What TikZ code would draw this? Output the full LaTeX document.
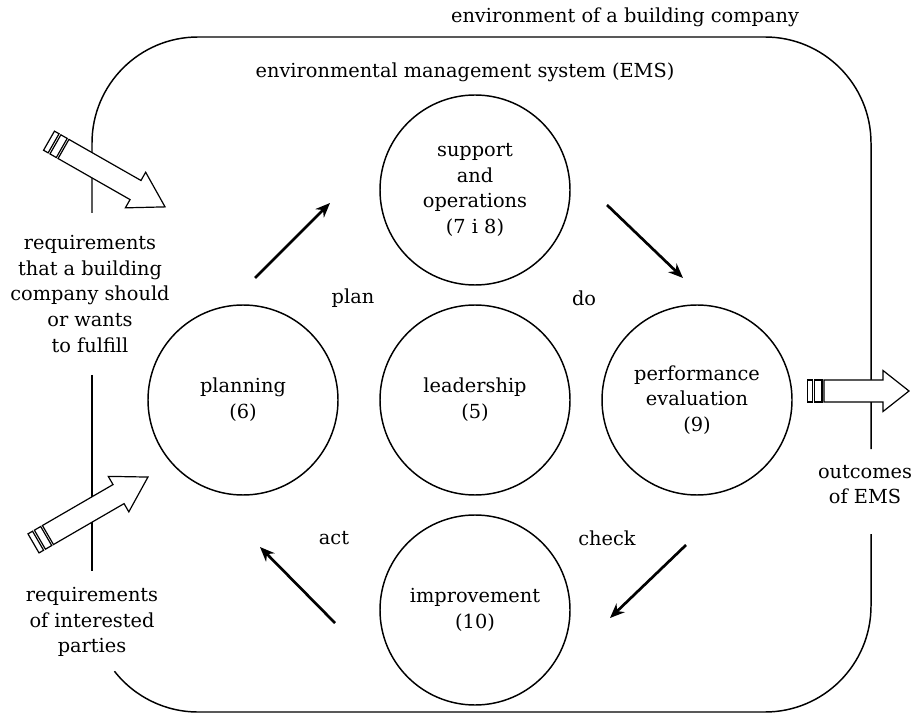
\documentclass[tikz,border=0pt]{standalone}
\usepackage{fontspec}
\setmainfont{DejaVu Serif}
\usetikzlibrary{arrows.meta}
\tikzset{
  stage/.style={draw, circle, line width=1.1pt, minimum size=142.5pt, inner sep=0pt, align=center},
  frameline/.style={line width=1.1pt},
  cyclearrow/.style={line width=2pt, -{Stealth[length=11pt,width=9pt]}},
  hollow/.style={draw, fill=white, line width=0.9pt, line join=miter},
  txt/.style={align=center, inner sep=0pt}
}
% striped hollow arrow: start, angle, total length, head length
\newcommand{\hollowarrow}[4]{%
  \begin{scope}[shift={#1},rotate=#2]
    \draw[hollow] (0,-11) rectangle (5.3,11);
    \draw[hollow] (7.4,-11) rectangle (14.7,11);
    \draw[hollow] (16.7,-11) -- ({#3-#4},-11) -- ({#3-#4},-20.5) -- (#3,0)
      -- ({#3-#4},20.5) -- ({#3-#4},11) -- (16.7,11) -- cycle;
  \end{scope}}
\begin{document}
\begin{tikzpicture}[x=0.75pt,y=0.75pt,font=\fontsize{14.5}{19.3}\selectfont]
\useasboundingbox (0,0) rectangle (919,714);
% frame
\draw[frameline] (92,501) -- (92,571) arc[start angle=180,end angle=90,radius=106]
  -- (765,677) arc[start angle=90,end angle=0,radius=106] -- (871,265);
\draw[frameline] (92,339) -- (92,143);
\draw[frameline] (871,180) -- (871,108) arc[start angle=0,end angle=-90,radius=106]
  -- (198,2) arc[start angle=270,end angle=218,radius=106];
% titles
\node[txt] (env) at (625,697) {environment of a building company};
\node[txt] (ems) at (465,642) {environmental management system (EMS)};
% stages
\node[stage] (support) at (475,524) {support\\and\\operations\\(7 i 8)};
\node[stage] (planning) at (243,314) {planning\\(6)};
\node[stage] (leadership) at (475,314) {leadership\\(5)};
\node[stage] (perf) at (697,314) {performance\\evaluation\\(9)};
\node[stage] (improve) at (475,104) {improvement\\(10)};
% cycle
\coordinate (plan-a) at (255,436);
\coordinate (plan-b) at (330,511);
\coordinate (do-a) at (607,509);
\coordinate (do-b) at (683,436);
\coordinate (check-a) at (686,169);
\coordinate (check-b) at (610,96);
\coordinate (act-a) at (335,91);
\coordinate (act-b) at (260,167);
\draw[cyclearrow] (plan-a) -- (plan-b);
\draw[cyclearrow] (do-a) -- (do-b);
\draw[cyclearrow] (check-a) -- (check-b);
\draw[cyclearrow] (act-a) -- (act-b);
\node[txt] (plan) at (353,416) {plan};
\node[txt] (do) at (584,416) {do};
\node[txt] (act) at (334,176) {act};
\node[txt] (check) at (607,176) {check};
% inputs and outputs
\node[txt] (req) at (90,420) {requirements\\that a building\\company should\\or wants\\to fulfill};
\node[txt] (parties) at (92,92) {requirements\\of interested\\parties};
\node[txt] (outcomes) at (865,229.5) {outcomes\\of EMS};
\hollowarrow{(49,573.3)}{-29.7}{133.6}{34}
\hollowarrow{(33.5,170.6)}{30.1}{132.3}{34}
\hollowarrow{(807.3,323)}{0}{101.7}{26}
\end{tikzpicture}
\end{document}
